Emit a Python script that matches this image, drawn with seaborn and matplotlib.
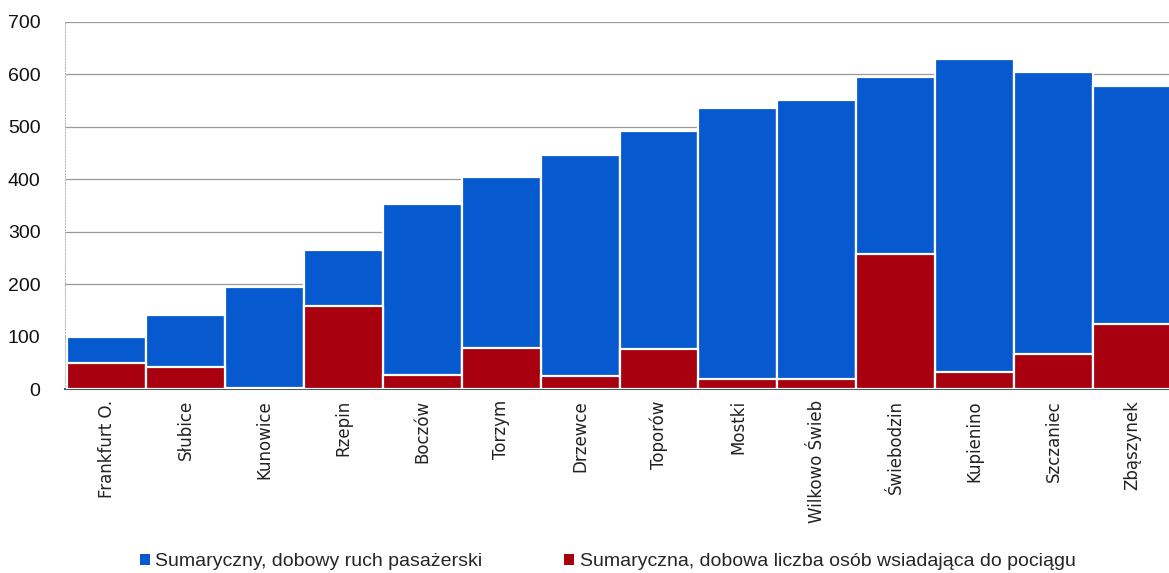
import matplotlib
matplotlib.use("Agg")
import matplotlib.pyplot as plt
from matplotlib.patches import Patch
import seaborn as sns
import pandas as pd

# Stations along the line and daily passenger figures
stations = ["Frankfurt O.", "Słubice", "Kunowice", "Rzepin", "Boczów", "Torzym",
            "Drzewce", "Toporów", "Mostki", "Wilkowo Świeb", "Świebodzin",
            "Kupienino", "Szczaniec", "Zbąszynek"]
total_traffic = [100, 141, 195, 265, 352, 405, 447, 492, 535, 550, 595, 630, 605, 578]
boarding = [49, 42, 2, 158, 27, 78, 25, 77, 20, 20, 258, 32, 66, 124]

series_total = "Sumaryczny, dobowy ruch pasażerski"
series_board = "Sumaryczna, dobowa liczba osób wsiadająca do pociągu"
y_ticks = [0, 100, 200, 300, 400, 500, 600, 700]

blue = "#0659CE"
red = "#A8000F"

sns.set_theme(style="white")
plt.rcParams["font.family"] = ["Liberation Sans", "DejaVu Sans"]

df = pd.DataFrame({"station": stations, "total": total_traffic, "board": boarding})

fig = plt.figure(figsize=(11.69, 5.73), dpi=100)
ax = fig.add_axes([0.056, 0.321, 0.95, 0.641])

sns.barplot(data=df, x="station", y="total", color=blue, width=1.0,
            edgecolor="white", linewidth=1.6, saturation=1, ax=ax, zorder=2)
sns.barplot(data=df, x="station", y="board", color=red, width=1.0,
            edgecolor="white", linewidth=1.6, saturation=1, ax=ax, zorder=3)

ax.set_xlim(-0.52, 13.55)
ax.set_ylim(0, 700)
ax.set_yticks(y_ticks)
ax.set_yticklabels([str(v) for v in y_ticks], fontsize=14, color="#111111")
ax.yaxis.grid(True, color="#9a9a9a", linewidth=0.9, zorder=0)
ax.set_axisbelow(True)
ax.set_xlabel("")
ax.set_ylabel("")
ax.tick_params(axis="x", length=0, pad=8)
ax.tick_params(axis="y", length=0, pad=18)
for lab in ax.get_xticklabels():
    lab.set_rotation(90)
    lab.set_fontsize(12)
    lab.set_family(["DejaVu Sans"])
    lab.set_color("#222222")

for side in ["top", "right"]:
    ax.spines[side].set_visible(False)
ax.spines["left"].set_color("#bbbbbb")
ax.spines["left"].set_linewidth(0.8)
ax.spines["left"].set_linestyle(":")
ax.spines["bottom"].set_color("#555555")
ax.spines["bottom"].set_linewidth(1.5)

handles = [Patch(facecolor=blue, edgecolor="none", label=series_total),
           Patch(facecolor=red, edgecolor="none", label=series_board)]
fig.legend(handles=handles, loc="center", bbox_to_anchor=(0.52, 0.02), ncol=2,
           frameon=False, fontsize=14, handlelength=0.5, handleheight=0.5,
           handletextpad=0.3, columnspacing=4.2)

fig.savefig("out.png", dpi=100)
